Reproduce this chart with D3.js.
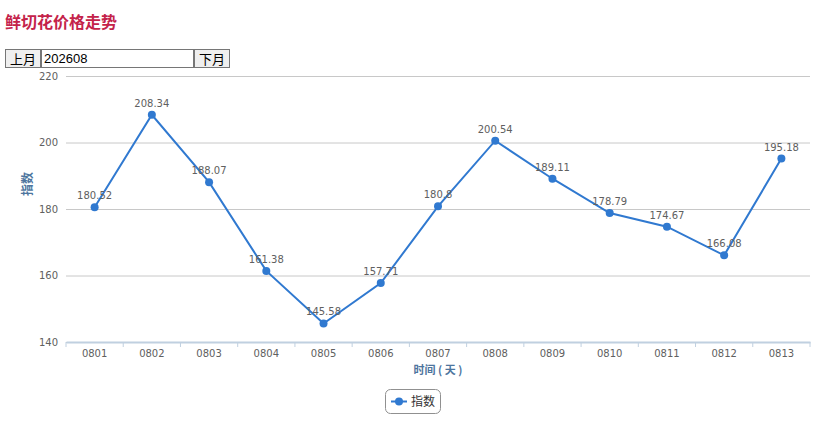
<!DOCTYPE html>
<html>
<head>
<meta charset="utf-8">
<script src="https://cdn.jsdelivr.net/npm/d3@7"></script>
<style>
  body { margin: 0; background: #fff; font-family: "DejaVu Sans", "Noto Sans CJK SC", sans-serif; }
  #title { position: absolute; left: 5px; top: 9px; margin: 0; font-size: 16px; font-weight: bold;
           color: #c4234a; font-family: "Noto Sans CJK SC", sans-serif; line-height: 24px; }
  #controls { position: absolute; left: 5px; top: 49px; height: 19px; display: flex; }
  #controls button { height: 19px; padding: 0 4px; font-size: 13px; border: 1px solid #767676;
           background: #efefef; font-family: "Noto Sans CJK SC", sans-serif; line-height: 15px; }
  #controls input { width: 147px; height: 15px; padding: 1px 2px; font-size: 13px; border: 1px solid #767676;
           font-family: "Liberation Sans", Arial, sans-serif; }
  #chart { position: absolute; left: 0; top: 0; }
</style>
</head>
<body>
<svg id="chart"></svg>
<div id="title">鲜切花价格走势</div>
<div id="controls"><button>上月</button><input type="text" value="202608"><button>下月</button></div>
<script>
var svgWidth = 819;
var svgHeight = 427;

var margin = { top: 76, right: 9, bottom: 85, left: 66 };
var width = svgWidth - margin.left - margin.right;
var height = svgHeight - margin.top - margin.bottom;

// data
var days = ["0801", "0802", "0803", "0804", "0805", "0806", "0807",
            "0808", "0809", "0810", "0811", "0812", "0813"];
var indexValues = [180.52, 208.34, 188.07, 161.38, 145.58, 157.71, 180.8,
                   200.54, 189.11, 178.79, 174.67, 166.08, 195.18];
var yTicks = [140, 160, 180, 200, 220];

var lineColor = "#3079d0";
var labelColor = "#606060";
var titleColor = "#4d759e";

var svg = d3.select("#chart")
  .attr("width", svgWidth)
  .attr("height", svgHeight);

var chartGroup = svg.append("g")
  .attr("transform", `translate(${margin.left}, ${margin.top})`);

var xScale = d3.scaleBand()
  .domain(days)
  .range([0, width]);

var yScale = d3.scaleLinear()
  .domain([140, 220])
  .range([height, 0]);

// gridlines + y labels
var yAxis = chartGroup.append("g")
  .call(d3.axisLeft(yScale).tickValues(yTicks).tickSize(-width).tickPadding(8));
yAxis.select(".domain").remove();
yAxis.selectAll(".tick line").attr("stroke", "#c8c8c8");
yAxis.selectAll(".tick text")
  .attr("fill", labelColor)
  .style("font-size", "10px")
  .style("font-family", "DejaVu Sans, sans-serif");

// x axis with ticks on category boundaries
var xAxis = chartGroup.append("g")
  .attr("transform", `translate(0, ${height})`)
  .call(d3.axisBottom(xScale).tickSize(0).tickPadding(8));
xAxis.select(".domain").attr("stroke", "#c0d0e0").attr("stroke-width", 2);
xAxis.selectAll(".tick text")
  .attr("fill", labelColor)
  .style("font-size", "10px")
  .style("font-family", "DejaVu Sans, sans-serif");

chartGroup.append("g")
  .selectAll("line")
  .data(d3.range(days.length + 1))
  .enter()
  .append("line")
  .attr("x1", i => i * xScale.bandwidth())
  .attr("x2", i => i * xScale.bandwidth())
  .attr("y1", height)
  .attr("y2", height + 5)
  .attr("stroke", "#c0d0e0");

// axis titles
chartGroup.append("text")
  .attr("x", width / 2)
  .attr("y", height + 32)
  .attr("text-anchor", "middle")
  .attr("fill", titleColor)
  .style("font-size", "11px")
  .style("font-weight", "bold")
  .style("font-family", "Noto Sans CJK SC, sans-serif")
  .text("时间 ( 天 )");

chartGroup.append("text")
  .attr("transform", "rotate(-90)")
  .attr("x", -(height / 2) + 25)
  .attr("y", -34)
  .attr("text-anchor", "middle")
  .attr("fill", titleColor)
  .style("font-size", "12px")
  .style("font-weight", "bold")
  .style("font-family", "Noto Sans CJK SC, sans-serif")
  .text("指数");

// the line
var cx = d => xScale(d) + xScale.bandwidth() / 2;

var line = d3.line()
  .x((d, i) => cx(days[i]))
  .y(d => yScale(d));

chartGroup.append("path")
  .datum(indexValues)
  .attr("d", line)
  .attr("fill", "none")
  .attr("stroke", lineColor)
  .attr("stroke-width", 2);

chartGroup.selectAll(".dot")
  .data(indexValues)
  .enter()
  .append("circle")
  .attr("cx", (d, i) => cx(days[i]))
  .attr("cy", d => yScale(d))
  .attr("r", 4)
  .attr("fill", lineColor);

chartGroup.selectAll(".dataLabel")
  .data(indexValues)
  .enter()
  .append("text")
  .attr("x", (d, i) => cx(days[i]))
  .attr("y", d => yScale(d) - 8)
  .attr("text-anchor", "middle")
  .attr("fill", labelColor)
  .style("font-size", "10px")
  .style("font-family", "DejaVu Sans, sans-serif")
  .text(d => d);

// legend
var legend = svg.append("g")
  .attr("transform", "translate(385, 389)");

legend.append("rect")
  .attr("x", 0.5)
  .attr("y", 0.5)
  .attr("width", 55)
  .attr("height", 24)
  .attr("rx", 5)
  .attr("fill", "#fff")
  .attr("stroke", "#909090");

legend.append("line")
  .attr("x1", 6)
  .attr("x2", 22)
  .attr("y1", 12.5)
  .attr("y2", 12.5)
  .attr("stroke", lineColor)
  .attr("stroke-width", 2);

legend.append("circle")
  .attr("cx", 14)
  .attr("cy", 12.5)
  .attr("r", 4)
  .attr("fill", lineColor);

legend.append("text")
  .attr("x", 26)
  .attr("y", 17)
  .attr("fill", "#333")
  .style("font-size", "12px")
  .style("font-family", "Noto Sans CJK SC, sans-serif")
  .text("指数");
</script>
</body>
</html>
